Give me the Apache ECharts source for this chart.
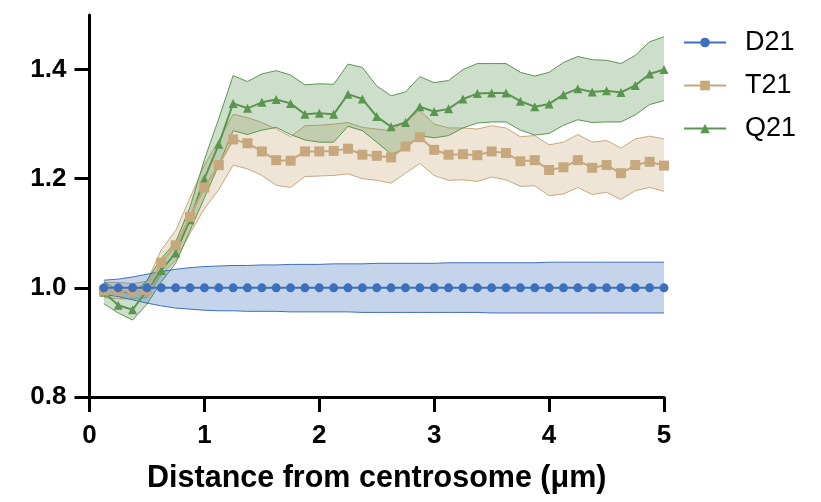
<!DOCTYPE html>
<html>
<head>
<meta charset="utf-8">
<script src="https://cdn.jsdelivr.net/npm/echarts@6/dist/echarts.min.js"></script>
<style>
  html, body { margin: 0; padding: 0; background: #fff; }
  #chart { width: 821px; height: 502px; }
</style>
</head>
<body>
<div id="chart"></div>
<script>
// distance from centrosome (um), one point every 0.125
const distance = [0.125, 0.25, 0.375, 0.5, 0.625, 0.75, 0.875, 1.0, 1.125, 1.25,
  1.375, 1.5, 1.625, 1.75, 1.875, 2.0, 2.125, 2.25, 2.375, 2.5,
  2.625, 2.75, 2.875, 3.0, 3.125, 3.25, 3.375, 3.5, 3.625, 3.75,
  3.875, 4.0, 4.125, 4.25, 4.375, 4.5, 4.625, 4.75, 4.875, 5.0];

const d21 = [1, 1, 1, 1, 1, 1, 1, 1, 1, 1, 1, 1, 1, 1, 1, 1, 1, 1, 1, 1,
  1, 1, 1, 1, 1, 1, 1, 1, 1, 1, 1, 1, 1, 1, 1, 1, 1, 1, 1, 1];
const d21Upper = [1.014, 1.016, 1.020, 1.025, 1.030, 1.034, 1.037, 1.039, 1.040, 1.041,
  1.041, 1.042, 1.042, 1.043, 1.043, 1.043, 1.044, 1.044, 1.044, 1.045,
  1.045, 1.045, 1.045, 1.045, 1.046, 1.046, 1.046, 1.046, 1.046, 1.046,
  1.046, 1.047, 1.047, 1.047, 1.047, 1.047, 1.047, 1.047, 1.047, 1.047];
const d21Lower = [0.988, 0.984, 0.978, 0.972, 0.967, 0.963, 0.961, 0.959, 0.958, 0.958,
  0.957, 0.957, 0.957, 0.956, 0.956, 0.956, 0.956, 0.956, 0.955, 0.955,
  0.955, 0.955, 0.955, 0.955, 0.955, 0.955, 0.955, 0.954, 0.954, 0.954,
  0.954, 0.954, 0.954, 0.954, 0.954, 0.954, 0.954, 0.954, 0.954, 0.954];

const t21 = [0.995, 0.995, 0.995, 0.996, 1.046, 1.078, 1.130, 1.184, 1.225, 1.272,
  1.265, 1.250, 1.234, 1.233, 1.250, 1.250, 1.251, 1.255, 1.244, 1.242,
  1.239, 1.259, 1.276, 1.253, 1.244, 1.245, 1.243, 1.250, 1.247, 1.232,
  1.234, 1.216, 1.221, 1.234, 1.220, 1.225, 1.210, 1.225, 1.231, 1.224];
const t21Upper = [1.010, 1.010, 1.008, 1.012, 1.070, 1.105, 1.165, 1.225, 1.270, 1.318,
  1.312, 1.303, 1.291, 1.277, 1.297, 1.298, 1.300, 1.303, 1.294, 1.291,
  1.288, 1.306, 1.325, 1.300, 1.293, 1.293, 1.291, 1.297, 1.293, 1.277,
  1.279, 1.262, 1.267, 1.281, 1.267, 1.270, 1.256, 1.273, 1.278, 1.273];
const t21Lower = [0.982, 0.980, 0.980, 0.982, 1.025, 1.050, 1.100, 1.145, 1.180, 1.225,
  1.218, 1.206, 1.188, 1.184, 1.204, 1.205, 1.206, 1.209, 1.200, 1.197,
  1.192, 1.210, 1.228, 1.206, 1.197, 1.198, 1.195, 1.203, 1.198, 1.186,
  1.187, 1.169, 1.172, 1.184, 1.171, 1.175, 1.162, 1.178, 1.184, 1.177];

const q21 = [0.992, 0.968, 0.960, 0.995, 1.032, 1.064, 1.125, 1.200, 1.263, 1.338,
  1.329, 1.340, 1.345, 1.338, 1.318, 1.320, 1.318, 1.355, 1.346, 1.314,
  1.295, 1.303, 1.332, 1.323, 1.328, 1.346, 1.356, 1.357, 1.357, 1.342,
  1.332, 1.337, 1.354, 1.365, 1.359, 1.361, 1.358, 1.371, 1.392, 1.400];
const q21Upper = [1.011, 0.996, 0.987, 1.014, 1.054, 1.084, 1.148, 1.235, 1.310, 1.389,
  1.378, 1.392, 1.398, 1.390, 1.372, 1.374, 1.373, 1.410, 1.404, 1.370,
  1.352, 1.359, 1.387, 1.376, 1.380, 1.400, 1.411, 1.411, 1.411, 1.395,
  1.388, 1.395, 1.413, 1.424, 1.418, 1.417, 1.411, 1.426, 1.451, 1.460];
const q21Lower = [0.971, 0.954, 0.941, 0.970, 1.011, 1.045, 1.105, 1.165, 1.225, 1.288,
  1.281, 1.289, 1.294, 1.281, 1.271, 1.267, 1.267, 1.296, 1.288, 1.267,
  1.245, 1.255, 1.279, 1.275, 1.279, 1.293, 1.302, 1.304, 1.304, 1.289,
  1.280, 1.283, 1.298, 1.308, 1.303, 1.304, 1.304, 1.317, 1.336, 1.343];

const xTicks = [0, 1, 2, 3, 4, 5];
const yTicks = [0.8, 1.0, 1.2, 1.4];

const BLUE = '#3d6fbe';
const TAN = '#c6a87c';
const GREEN = '#5b9651';
const FONT = '"Liberation Sans", Arial, sans-serif';

function pairs(ys) {
  return distance.map((x, i) => [x, ys[i]]);
}

// filled error band drawn once as a polygon through the axes
function band(name, lower, upper, color, fill, z) {
  return {
    name: name,
    type: 'custom',
    z: z,
    silent: true,
    clip: false,
    data: distance.map((x, i) => [x, lower[i], upper[i]]),
    encode: { x: 0, y: [1, 2] },
    renderItem: function (params, api) {
      if (params.dataIndex !== 0) return null;
      const top = distance.map((x, i) => api.coord([x, upper[i]]));
      const bot = distance.map((x, i) => api.coord([x, lower[i]]));
      return {
        type: 'group',
        children: [
          { type: 'polygon', shape: { points: top.concat(bot.slice().reverse()) },
            style: { fill: fill, stroke: null } },
          { type: 'polyline', shape: { points: top },
            style: { stroke: color, lineWidth: 1, fill: null } },
          { type: 'polyline', shape: { points: bot },
            style: { stroke: color, lineWidth: 1, fill: null } }
        ]
      };
    }
  };
}

function line(name, ys, color, symbol, size, z) {
  return {
    name: name,
    type: 'line',
    z: z,
    data: pairs(ys),
    symbol: symbol,
    symbolSize: size,
    showAllSymbol: true,
    lineStyle: { color: color, width: 2 },
    itemStyle: { color: color },
    emphasis: { disabled: true }
  };
}

const chart = echarts.init(document.getElementById('chart'));
chart.setOption({
  animation: false,
  grid: { left: 89.5, right: 157, top: 15, bottom: 105 },
  legend: {
    data: ['D21', 'T21', 'Q21'],
    orient: 'vertical',
    left: 678,
    top: 24,
    itemWidth: 42,
    itemHeight: 12,
    itemGap: 16,
    textStyle: { fontFamily: FONT, fontSize: 27, color: '#000', padding: [0, 0, 0, 14] }
  },
  xAxis: {
    type: 'value',
    min: 0,
    max: 5,
    interval: 1,
    name: 'Distance from centrosome (\u03bcm)',
    nameLocation: 'middle',
    nameGap: 66,
    nameTextStyle: { fontFamily: FONT, fontSize: 30.5, fontWeight: 'bold', color: '#000' },
    axisLine: { onZero: false, lineStyle: { color: '#000', width: 3 } },
    axisTick: { show: true, length: 15, lineStyle: { color: '#000', width: 3 }, customValues: xTicks },
    axisLabel: { margin: 26, fontFamily: FONT, fontSize: 26, fontWeight: 'bold', color: '#000', customValues: xTicks },
    splitLine: { show: false }
  },
  yAxis: {
    type: 'value',
    min: 0.8,
    max: 1.5,
    interval: 0.2,
    axisLine: { show: true, onZero: false, lineStyle: { color: '#000', width: 3 } },
    axisTick: { show: true, length: 15, lineStyle: { color: '#000', width: 3 }, customValues: yTicks },
    axisLabel: { margin: 23, fontFamily: FONT, fontSize: 26, fontWeight: 'bold', color: '#000',
      customValues: yTicks, formatter: v => v.toFixed(1) },
    splitLine: { show: false }
  },
  series: [
    band('T21 band', t21Lower, t21Upper, TAN, 'rgba(198,168,124,0.3)', 1),
    band('Q21 band', q21Lower, q21Upper, GREEN, 'rgba(91,150,81,0.3)', 2),
    band('D21 band', d21Lower, d21Upper, BLUE, 'rgba(61,111,190,0.3)', 3),
    line('Q21', q21, GREEN, 'triangle', 9, 4),
    line('T21', t21, TAN, 'rect', 10, 5),
    line('D21', d21, BLUE, 'circle', 9, 6)
  ]
});
</script>
</body>
</html>
